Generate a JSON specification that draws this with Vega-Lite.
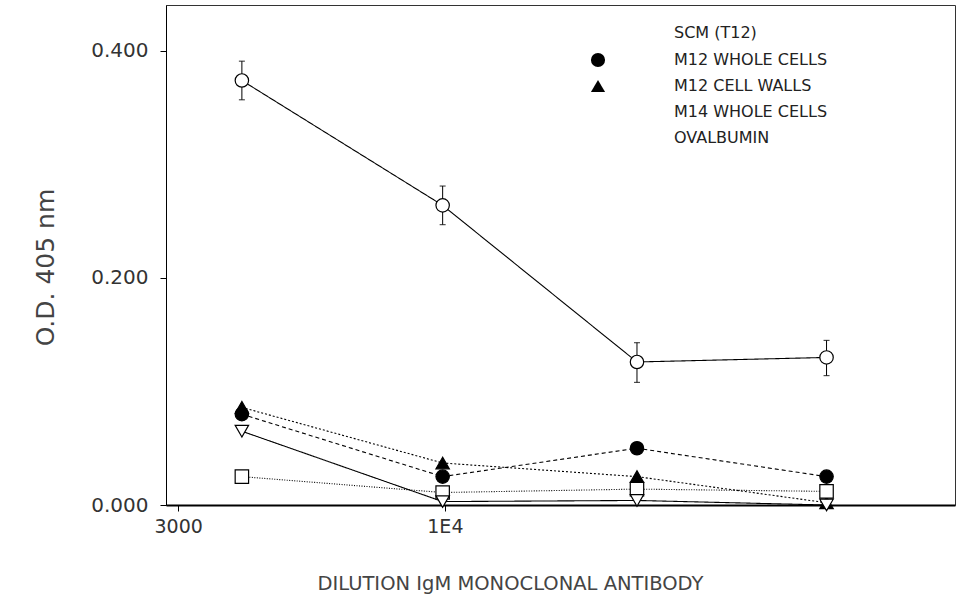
{
  "$schema": "https://vega.github.io/schema/vega-lite/v6.json",
  "autosize": {"type": "none"},
  "padding": {"left": 166, "top": 5, "right": 5, "bottom": 100},
  "width": 789,
  "height": 500,
  "background": "white",
  "config": {
    "font": "DejaVu Sans",
    "view": {"stroke": "#333", "strokeWidth": 1},
    "axis": {"grid": false, "domainColor": "black", "tickColor": "black", "labelColor": "#333", "titleColor": "#444", "labelFont": "DejaVu Sans", "titleFont": "DejaVu Sans", "titleFontWeight": "normal"}
  },
  "data": {"values": [
    {"series": "SCM (T12)", "dilution": 4000, "od": 0.374, "lo": 0.357, "hi": 0.391},
    {"series": "SCM (T12)", "dilution": 9900, "od": 0.264, "lo": 0.247, "hi": 0.281},
    {"series": "SCM (T12)", "dilution": 23800, "od": 0.126, "lo": 0.108, "hi": 0.143},
    {"series": "SCM (T12)", "dilution": 56000, "od": 0.130, "lo": 0.114, "hi": 0.145},
    {"series": "M12 WHOLE CELLS", "dilution": 4000, "od": 0.080},
    {"series": "M12 WHOLE CELLS", "dilution": 9900, "od": 0.025},
    {"series": "M12 WHOLE CELLS", "dilution": 23800, "od": 0.050},
    {"series": "M12 WHOLE CELLS", "dilution": 56000, "od": 0.025},
    {"series": "M12 CELL WALLS", "dilution": 4000, "od": 0.086},
    {"series": "M12 CELL WALLS", "dilution": 9900, "od": 0.037},
    {"series": "M12 CELL WALLS", "dilution": 23800, "od": 0.025},
    {"series": "M12 CELL WALLS", "dilution": 56000, "od": 0.002},
    {"series": "M14 WHOLE CELLS", "dilution": 4000, "od": 0.025},
    {"series": "M14 WHOLE CELLS", "dilution": 9900, "od": 0.011},
    {"series": "M14 WHOLE CELLS", "dilution": 23800, "od": 0.014},
    {"series": "M14 WHOLE CELLS", "dilution": 56000, "od": 0.012},
    {"series": "OVALBUMIN", "dilution": 4000, "od": 0.065},
    {"series": "OVALBUMIN", "dilution": 9900, "od": 0.003},
    {"series": "OVALBUMIN", "dilution": 23800, "od": 0.004},
    {"series": "OVALBUMIN", "dilution": 56000, "od": 0.0}
  ]},
  "encoding": {
    "x": {"field": "dilution", "type": "quantitative",
      "scale": {"type": "log", "domain": [2840, 100000], "nice": false},
      "axis": {"values": [3000, 10000], "labelExpr": "datum.value == 10000 ? '1E4' : '3000'", "labelFontSize": 19, "tickSize": 6, "labelPadding": 6, "domainWidth": 2,
        "title": "DILUTION IgM MONOCLONAL ANTIBODY", "titleFontSize": 19.5, "titleX": 344, "titleY": 78, "titleBaseline": "middle", "titleAnchor": "middle"}},
    "y": {"field": "od", "type": "quantitative",
      "scale": {"domain": [0, 0.4405], "nice": false, "zero": false},
      "axis": {"values": [0, 0.2, 0.4], "format": ".3f", "labelFontSize": 20, "tickSize": 6, "labelPadding": 12,
        "title": "O.D. 405 nm", "titleFontSize": 25, "titleX": -121, "titleY": 262, "titleAngle": -90, "titleBaseline": "middle", "titleAnchor": "middle"}}
  },
  "layer": [
    {
      "transform": [{"filter": "datum.lo != null"}],
      "mark": {"type": "rule", "color": "black", "strokeWidth": 1},
      "encoding": {"y": {"field": "lo", "type": "quantitative"}, "y2": {"field": "hi"}}
    },
    {
      "transform": [{"filter": "datum.lo != null"}],
      "mark": {"type": "tick", "orient": "horizontal", "color": "black", "size": 6, "thickness": 1.2},
      "encoding": {"y": {"field": "lo", "type": "quantitative"}}
    },
    {
      "transform": [{"filter": "datum.lo != null"}],
      "mark": {"type": "tick", "orient": "horizontal", "color": "black", "size": 6, "thickness": 1.2},
      "encoding": {"y": {"field": "hi", "type": "quantitative"}}
    },
    {
      "mark": {"type": "line", "color": "black", "strokeWidth": 1.1},
      "encoding": {
        "detail": {"field": "series"},
        "strokeDash": {"field": "series", "type": "nominal", "legend": null,
          "scale": {"domain": ["OVALBUMIN", "SCM (T12)", "M12 WHOLE CELLS", "M12 CELL WALLS", "M14 WHOLE CELLS"],
            "range": [[1, 0], [1, 0], [4, 3], [2, 2], [1, 1.5]]}}
      }
    },
    {
      "mark": {"type": "point", "stroke": "black", "strokeWidth": 1.2, "opacity": 1, "fillOpacity": 1, "size": 180},
      "encoding": {
        "shape": {"field": "series", "type": "nominal",
          "scale": {"domain": ["SCM (T12)", "M12 WHOLE CELLS", "M12 CELL WALLS", "M14 WHOLE CELLS", "OVALBUMIN"],
            "range": ["circle", "circle", "triangle-up", "square", "triangle-down"]},
          "legend": {"title": null, "orient": "none", "legendX": 424, "legendY": 20, "padding": 0, "rowPadding": 7,
            "labelFontSize": 16, "labelColor": "#222", "labelFont": "DejaVu Sans", "labelOffset": 68,
            "symbolSize": 200, "symbolStrokeColor": "black", "symbolStrokeWidth": 1.2}},
        "fill": {"field": "series", "type": "nominal",
          "scale": {"domain": ["SCM (T12)", "M12 WHOLE CELLS", "M12 CELL WALLS", "M14 WHOLE CELLS", "OVALBUMIN"],
            "range": ["white", "black", "black", "white", "white"]},
          "legend": {"title": null, "orient": "none", "legendX": 424, "legendY": 20, "padding": 0, "rowPadding": 7,
            "labelFontSize": 16, "labelColor": "#222", "labelFont": "DejaVu Sans", "labelOffset": 68,
            "symbolSize": 200, "symbolStrokeColor": "black", "symbolStrokeWidth": 1.2}}
      }
    }
  ]
}
